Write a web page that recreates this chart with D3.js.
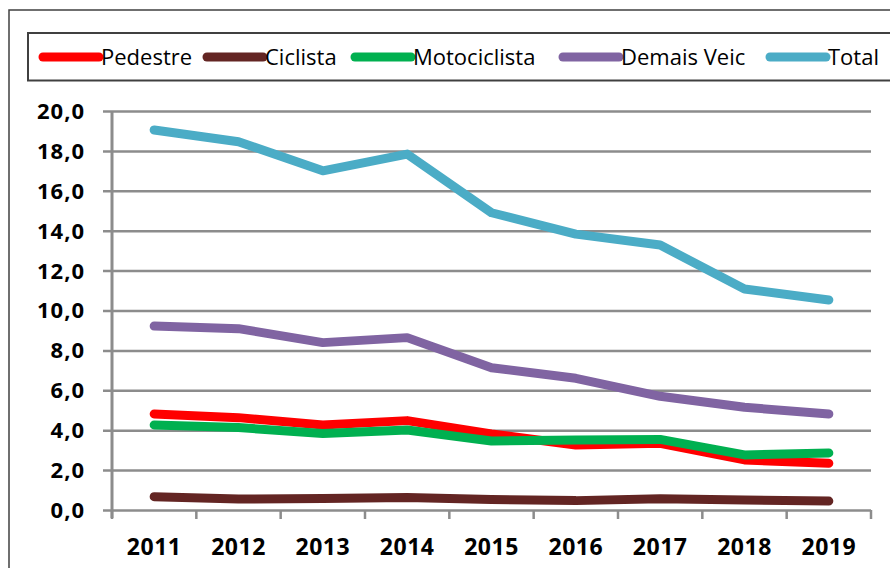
<!DOCTYPE html>
<html>
<head>
<meta charset="utf-8">
<script src="https://cdn.jsdelivr.net/npm/d3@7/dist/d3.min.js"></script>
<style>
  html, body { margin: 0; padding: 0; background: #fff; }
  svg { display: block; }
</style>
</head>
<body>
<div id="chart"></div>
<script>
// ---- data ----
const years = ["2011","2012","2013","2014","2015","2016","2017","2018","2019"];
const pedestre     = [4.81, 4.63, 4.26, 4.48, 3.81, 3.26, 3.34, 2.51, 2.34];
const ciclista     = [0.67, 0.55, 0.58, 0.63, 0.53, 0.47, 0.57, 0.50, 0.45];
const motociclista = [4.26, 4.13, 3.84, 4.01, 3.46, 3.51, 3.54, 2.76, 2.86];
const demaisVeic   = [9.22, 9.09, 8.39, 8.64, 7.13, 6.60, 5.70, 5.15, 4.81];
const total        = [19.05, 18.46, 17.00, 17.84, 14.90, 13.83, 13.28, 11.08, 10.53];
const seriesNames  = ["Pedestre", "Ciclista", "Motociclista", "Demais Veic", "Total"];
const yTicks       = [0, 2, 4, 6, 8, 10, 12, 14, 16, 18, 20];

const seriesData = [pedestre, ciclista, motociclista, demaisVeic, total];
const colors = ["#FF0000", "#632523", "#00B050", "#8064A2", "#4BACC6"];

// ---- layout ----
const W = 890, H = 568;
const plot = { left: 112, right: 871, top: 111, bottom: 510 };
const legendX = [43, 207, 355, 563, 770];

const svg = d3.select("#chart").append("svg").attr("width", W).attr("height", H);

// outer frame
svg.append("rect").attr("x", 9).attr("y", 10).attr("width", 900).attr("height", 600)
  .attr("fill", "none").attr("stroke", "#404040").attr("stroke-width", 1.5);

// legend box
svg.append("rect").attr("x", 28).attr("y", 33).attr("width", 900).attr("height", 47.5)
  .attr("fill", "none").attr("stroke", "#404040").attr("stroke-width", 2);

const x = d3.scaleBand().domain(years).range([plot.left, plot.right]).paddingInner(0).paddingOuter(0);
const y = d3.scaleLinear().domain([0, 20]).range([plot.bottom, plot.top]);
const fmt = v => d3.format(".1f")(v).replace(".", ",");

const gridColor = "#8c8c8c";

// horizontal gridlines + left ticks
svg.append("g")
  .attr("transform", `translate(${plot.left},0)`)
  .call(d3.axisLeft(y).tickValues(yTicks).tickSize(-(plot.right - plot.left)).tickFormat(""))
  .call(g => g.select(".domain").remove())
  .call(g => g.selectAll(".tick line").attr("stroke", gridColor).attr("stroke-width", 2.5)
        .attr("x1", -9).attr("x2", plot.right - plot.left));

// y-axis labels
svg.append("g")
  .selectAll("text").data(yTicks).join("text")
  .attr("x", 85).attr("y", d => y(d)).attr("dy", "0.36em")
  .attr("text-anchor", "end")
  .style("font-family", "'Open Sans', sans-serif").style("font-weight", "bold")
  .style("font-size", "22px").style("letter-spacing", "1px")
  .attr("fill", "#000").text(fmt);

// y-axis line
svg.append("line").attr("x1", plot.left).attr("x2", plot.left)
  .attr("y1", plot.top).attr("y2", plot.bottom + 8)
  .attr("stroke", gridColor).attr("stroke-width", 3);

// x-axis ticks at category boundaries
const boundaries = years.map(d => x(d)).concat([x(years[years.length - 1]) + x.bandwidth()]);
svg.append("g").selectAll("line").data(boundaries).join("line")
  .attr("x1", d => d).attr("x2", d => d)
  .attr("y1", plot.bottom).attr("y2", plot.bottom + 9)
  .attr("stroke", gridColor).attr("stroke-width", 2.5);

// x labels
svg.append("g").selectAll("text").data(years).join("text")
  .attr("x", d => x(d) + x.bandwidth() / 2).attr("y", 555)
  .attr("text-anchor", "middle")
  .style("font-family", "'Open Sans', sans-serif").style("font-weight", "bold")
  .style("font-size", "23px").style("letter-spacing", "0.5px")
  .attr("fill", "#000").text(d => d);

// lines
const line = d3.line()
  .x((d, i) => x(years[i]) + x.bandwidth() / 2)
  .y(d => y(d));

svg.append("g").selectAll("path").data(seriesData).join("path")
  .attr("d", d => line(d))
  .attr("fill", "none")
  .attr("stroke", (d, i) => colors[i])
  .attr("stroke-width", 9)
  .attr("stroke-linecap", "round")
  .attr("stroke-linejoin", "round");

// legend
const leg = svg.append("g").selectAll("g").data(seriesNames).join("g")
  .attr("transform", (d, i) => `translate(${legendX[i]},57)`);
leg.append("line").attr("x1", 0).attr("x2", 56).attr("y1", 0).attr("y2", 0)
  .attr("stroke", (d, i) => colors[i]).attr("stroke-width", 9).attr("stroke-linecap", "round");
leg.append("text").attr("x", 58).attr("y", 0).attr("dy", "0.36em")
  .style("font-family", "'Open Sans', sans-serif").style("font-size", "22px")
  .attr("fill", "#000").text(d => d);
</script>
</body>
</html>
